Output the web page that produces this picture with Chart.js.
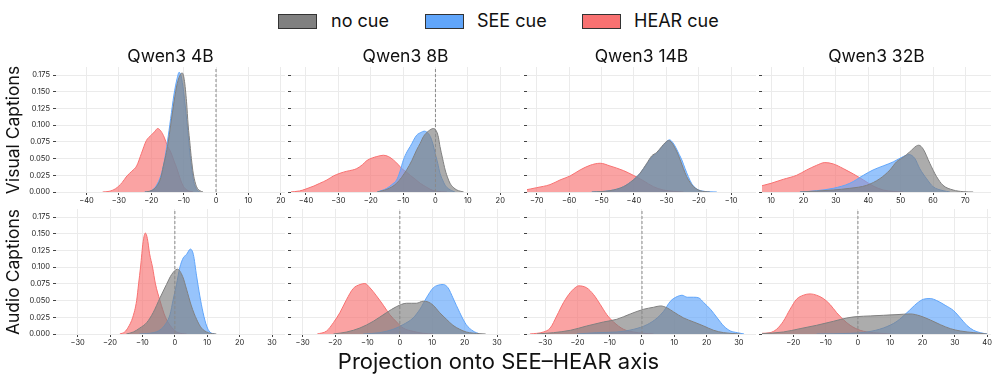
<!DOCTYPE html>
<html>
<head>
<meta charset="utf-8">
<script src="https://cdn.jsdelivr.net/npm/chart.js@4.4.1/dist/chart.umd.min.js"></script>
<style>
  body { margin: 0; background: #fff; font-family: Inter, "Liberation Sans", sans-serif; }
  #fig { position: relative; width: 997px; height: 379px; overflow: hidden; }
  .panel { position: absolute; }
  .title { position: absolute; width: 229px; text-align: center; font-size: 17.5px; line-height: 20px; color: #111; }
  .rowlabel { position: absolute; font-size: 17.5px; line-height: 20px; color: #111; white-space: nowrap;
              transform: translate(-50%, -50%) rotate(-90deg); }
  .xlabel { position: absolute; left: 0; width: 997px; text-align: center; font-size: 22px; line-height: 24px; color: #111; }
  .legbox { position: absolute; width: 37px; height: 13px; border: 1px solid #333; }
  .legtext { position: absolute; font-size: 18px; line-height: 20px; color: #111; white-space: nowrap; }
</style>
</head>
<body>
<div id="fig"></div>
<script>
const models = ['Qwen3 4B', 'Qwen3 8B', 'Qwen3 14B', 'Qwen3 32B'];
const rowLabels = ['Visual Captions', 'Audio Captions'];
const cueNames = ['no cue', 'SEE cue', 'HEAR cue'];
const cueColors = ['128,128,128', '96,165,250', '248,113,113'];
const yTicks = [0, 0.025, 0.05, 0.075, 0.1, 0.125, 0.15, 0.175];
const yMax = 0.187;

// x limits and ticks per panel
const visualXRange = [[-49.4, 21.3], [-44.6, 26.1], [-73.0, -2.3], [7.2, 77.9]];
const audioXRange = [[-36.7, 34.0], [-33.6, 37.1], [-35.6, 35.3], [-29.7, 41.2]];
const visualXTicks = [
  [-40, -30, -20, -10, 0, 10, 20],
  [-40, -30, -20, -10, 0, 10, 20],
  [-70, -60, -50, -40, -30, -20, -10],
  [10, 20, 30, 40, 50, 60, 70]
];
const audioXTicks = [
  [-30, -20, -10, 0, 10, 20, 30],
  [-30, -20, -10, 0, 10, 20, 30],
  [-30, -20, -10, 0, 10, 20, 30],
  [-20, -10, 0, 10, 20, 30, 40]
];

// density curves, [projection, density]
const visual4B_noCue = [[-22,0],[-20,0.002],[-18.4,0.008],[-17,0.022],[-16.3,0.038],[-15.5,0.055],[-14.8,0.073],[-14,0.1],[-13.2,0.127],[-12.2,0.157],[-11.2,0.174],[-10.4,0.178],[-9.8,0.168],[-9.1,0.135],[-8.6,0.1],[-8,0.07],[-7.6,0.05],[-7,0.027],[-6,0.008],[-5,0.002],[-4,0]];
const visual4B_see = [[-22,0],[-20,0.002],[-18.5,0.009],[-17,0.025],[-16,0.045],[-15,0.075],[-14,0.11],[-13,0.145],[-12,0.17],[-11.4,0.179],[-10.8,0.174],[-10,0.15],[-9,0.105],[-8,0.055],[-7,0.018],[-6,0.004],[-5,0]];
const visual4B_hear = [[-35,0],[-33,0.001],[-31,0.005],[-29,0.014],[-27.5,0.024],[-26,0.031],[-24.5,0.039],[-23,0.058],[-21.5,0.077],[-20,0.085],[-19,0.09],[-18,0.095],[-17,0.091],[-16,0.082],[-15,0.069],[-14,0.06],[-13,0.047],[-12,0.034],[-11,0.019],[-10,0.008],[-9,0.003],[-8,0.001],[-7,0]];

const visual8B_noCue = [[-18,0],[-15,0.004],[-12,0.013],[-8.9,0.033],[-7.3,0.047],[-5.8,0.063],[-4.7,0.073],[-3.7,0.083],[-2.2,0.091],[-0.6,0.095],[0.4,0.09],[0.9,0.082],[1.4,0.068],[2.2,0.05],[3,0.033],[3.8,0.021],[4.5,0.013],[5.5,0.007],[6.6,0.003],[8.7,0]];
const visual8B_see = [[-18,0],[-15,0.0055],[-13.5,0.011],[-12,0.018],[-11,0.03],[-9.9,0.048],[-8.8,0.06],[-7.8,0.068],[-5.8,0.085],[-4.5,0.089],[-3.5,0.091],[-2.5,0.089],[-1.6,0.083],[-0.8,0.072],[-0.1,0.058],[0.7,0.043],[1.4,0.028],[2.2,0.018],[3,0.01],[4,0.005],[5,0.002],[6,0]];
const visual8B_hear = [[-45,0],[-42,0.0015],[-40,0.0045],[-37.5,0.009],[-35.7,0.013],[-33.5,0.018],[-31.5,0.024],[-29.5,0.028],[-27.4,0.031],[-25.5,0.033],[-24.3,0.035],[-22.5,0.041],[-21.2,0.047],[-19.5,0.051],[-18.1,0.053],[-16.1,0.055],[-14.5,0.053],[-13,0.048],[-11.5,0.041],[-10.4,0.035],[-9,0.03],[-7.8,0.025],[-6.2,0.019],[-4.7,0.013],[-3,0.008],[-1.6,0.004],[0.4,0.001],[3.5,0]];

const visual14B_noCue = [[-53,0],[-47.4,0.002],[-43.2,0.008],[-40.2,0.018],[-38.1,0.028],[-36,0.043],[-34.5,0.054],[-33,0.059],[-31.4,0.068],[-30.3,0.074],[-29.3,0.077],[-28.5,0.075],[-27.8,0.07],[-26.7,0.06],[-25.7,0.048],[-24.7,0.035],[-23.7,0.023],[-22.6,0.014],[-21.6,0.008],[-19.6,0.002],[-16.5,0]];
const visual14B_see = [[-53,0],[-47.4,0.002],[-43.2,0.008],[-40.2,0.018],[-38.1,0.028],[-36,0.042],[-34.5,0.052],[-33,0.058],[-31.4,0.067],[-30,0.075],[-29,0.078],[-28,0.074],[-27,0.066],[-26,0.056],[-25.2,0.048],[-24.2,0.035],[-23.2,0.023],[-22.2,0.013],[-21,0.006],[-19,0.0015],[-14.4,0]];
const visual14B_hear = [[-77,0.001],[-73.6,0.003],[-70,0.0065],[-65.9,0.011],[-62.8,0.018],[-59.7,0.024],[-56.6,0.033],[-53.5,0.04],[-50.4,0.043],[-47.4,0.039],[-43.2,0.032],[-40.2,0.025],[-37.1,0.017],[-34,0.008],[-30.9,0.003],[-27.8,0.001],[-24.7,0]];

const visual32B_noCue = [[18.9,0],[29.2,0.003],[34.3,0.0055],[39.5,0.01],[43.6,0.02],[46.7,0.033],[48.7,0.045],[50.8,0.052],[52.8,0.06],[54.9,0.069],[55.6,0.07],[57,0.064],[59,0.043],[61.1,0.023],[63.1,0.01],[66.2,0.003],[69.3,0.0005],[72.4,0]];
const visual32B_see = [[18.9,0],[24.1,0.002],[29.2,0.0055],[34.3,0.013],[38.5,0.025],[41.5,0.033],[44.6,0.039],[47.7,0.045],[50.8,0.053],[52.6,0.056],[54.4,0.05],[55.9,0.035],[58,0.02],[60,0.008],[63.1,0.002],[65.2,0]];
const visual32B_hear = [[4,0.006],[6.9,0.009],[10,0.013],[13.8,0.019],[17.9,0.025],[21,0.033],[24.1,0.04],[26.6,0.044],[29.2,0.042],[32.3,0.035],[35.4,0.027],[38.5,0.018],[41.5,0.009],[44.6,0.003],[47.7,0.001],[50.8,0]];

const audio4B_noCue = [[-15,0],[-12.8,0.003],[-10.8,0.009],[-8.7,0.017],[-6.7,0.032],[-4.6,0.054],[-2.6,0.074],[-1,0.089],[0.8,0.097],[2.4,0.086],[3.6,0.067],[5.1,0.042],[6.7,0.022],[8.2,0.009],[10.3,0.002],[12.8,0]];
const audio4B_see = [[-11,0],[-6.7,0.002],[-4.6,0.006],[-2.6,0.017],[-1.5,0.029],[-0.5,0.052],[0.5,0.074],[1.5,0.099],[2.6,0.114],[3.6,0.119],[4.8,0.127],[5.7,0.119],[6.7,0.087],[7.7,0.057],[8.7,0.032],[9.8,0.012],[10.8,0.003],[12.3,0]];
const audio4B_hear = [[-17,0],[-15.5,0.003],[-14.4,0.01],[-13,0.025],[-11.8,0.05],[-11.2,0.075],[-10.6,0.1],[-9.8,0.138],[-9.1,0.151],[-8.5,0.143],[-7.8,0.12],[-6.9,0.1],[-6,0.075],[-4.6,0.05],[-2.9,0.025],[-1,0.01],[1,0.002],[3.6,0]];

const audio8B_noCue = [[-20.5,0],[-16.4,0.003],[-12.3,0.009],[-8.2,0.019],[-4.1,0.032],[-1,0.041],[2.1,0.046],[3.6,0.046],[5.1,0.046],[7.2,0.049],[8.7,0.048],[10.3,0.043],[12.3,0.032],[14.4,0.022],[16.4,0.013],[18.5,0.007],[20.5,0.003],[24.7,0.0005],[26.5,0]];
const audio8B_see = [[-11.3,0],[-6.2,0.002],[-2.1,0.007],[1,0.014],[4.1,0.024],[6.2,0.037],[8.2,0.054],[10.3,0.069],[11.8,0.073],[13.4,0.074],[14.9,0.069],[16.4,0.054],[18.5,0.032],[20.5,0.014],[22.6,0.0045],[24.7,0]];
const audio8B_hear = [[-25.5,0],[-22.6,0.0045],[-20.5,0.017],[-18.5,0.032],[-16.4,0.052],[-14.4,0.068],[-12.3,0.074],[-10.8,0.0755],[-9.2,0.069],[-7.2,0.057],[-5.1,0.043],[-3.1,0.029],[-1,0.018],[1,0.009],[4.1,0.004],[7.2,0.001],[10.3,0]];

const audio14B_noCue = [[-32.6,0],[-27.4,0.002],[-22.2,0.0055],[-17.1,0.012],[-11.9,0.018],[-7.8,0.022],[-3.6,0.03],[0.5,0.037],[3.6,0.04],[5.7,0.042],[7.8,0.039],[9.8,0.033],[12.9,0.024],[16,0.018],[19.1,0.012],[22.2,0.0055],[25.3,0.002],[30.5,0]];
const audio14B_see = [[-20.2,0],[-14,0.002],[-7.8,0.003],[-2.6,0.007],[1.6,0.014],[4.7,0.024],[6.7,0.034],[8.8,0.049],[10.9,0.056],[12.4,0.058],[14,0.055],[16,0.055],[17.6,0.054],[19.1,0.047],[21.2,0.037],[23.3,0.024],[25.3,0.012],[27.4,0.0045],[29.5,0.002],[31.6,0]];
const audio14B_hear = [[-34.7,0],[-30.5,0.003],[-28.4,0.009],[-26.4,0.027],[-24.3,0.047],[-22.2,0.062],[-20.2,0.071],[-19.7,0.072],[-17.1,0.069],[-15,0.059],[-12.9,0.044],[-10.9,0.029],[-8.8,0.018],[-5.7,0.007],[-2.6,0.003],[0.5,0.001],[3.6,0]];

const audio32B_noCue = [[-32,0],[-29.8,0.0005],[-23.1,0.003],[-17.9,0.008],[-12.8,0.013],[-7.6,0.019],[-3.4,0.024],[-0.3,0.026],[3.8,0.027],[7.9,0.028],[12.1,0.029],[16.2,0.03],[19.3,0.027],[22.4,0.021],[25.5,0.014],[28.6,0.008],[31.7,0.0045],[35.9,0.002],[40,0]];
const audio32B_see = [[-12.8,0],[-2.4,0.001],[2.8,0.003],[7.9,0.009],[12.1,0.019],[15.2,0.032],[18.3,0.046],[20.3,0.052],[22.4,0.053],[24.4,0.05],[27,0.043],[29.6,0.035],[31.7,0.024],[33.7,0.013],[35.8,0.0055],[37.9,0.002],[40,0]];
const audio32B_hear = [[-32,0.0005],[-29.8,0.001],[-27.2,0.002],[-25.2,0.007],[-23.1,0.019],[-21,0.037],[-19,0.052],[-16.9,0.058],[-14.8,0.06],[-12.8,0.058],[-10.7,0.053],[-8.6,0.044],[-6.6,0.032],[-4.4,0.021],[-2.4,0.013],[0.7,0.0055],[4.8,0.002],[10,0]];

const visualCurves = [
  [visual4B_noCue, visual4B_see, visual4B_hear],
  [visual8B_noCue, visual8B_see, visual8B_hear],
  [visual14B_noCue, visual14B_see, visual14B_hear],
  [visual32B_noCue, visual32B_see, visual32B_hear]
];
const audioCurves = [
  [audio4B_noCue, audio4B_see, audio4B_hear],
  [audio8B_noCue, audio8B_see, audio8B_hear],
  [audio14B_noCue, audio14B_see, audio14B_hear],
  [audio32B_noCue, audio32B_see, audio32B_hear]
];

// layout of plot areas
const colLeft = [56, 291, 527, 762];
const rowTop = [67, 209];
const plotW = 229, plotH = 125;
const axisW = 56, axisH = 22, padTop = 10, padRight = 8;

Chart.defaults.font.family = 'Inter, "Liberation Sans", sans-serif';

const fig = document.getElementById('fig');

function fmtTick(v) {
  return v < 0 ? '\u2212' + Math.abs(v) : String(v);
}

function makePanel(row, col) {
  const curves = row === 0 ? visualCurves[col] : audioCurves[col];
  const range = row === 0 ? visualXRange[col] : audioXRange[col];
  const xTicks = row === 0 ? visualXTicks[col] : audioXTicks[col];

  const div = document.createElement('div');
  div.className = 'panel';
  div.style.left = (colLeft[col] - axisW) + 'px';
  div.style.top = (rowTop[row] - padTop) + 'px';
  const canvas = document.createElement('canvas');
  canvas.width = axisW + plotW + padRight;
  canvas.height = padTop + plotH + axisH;
  div.appendChild(canvas);
  fig.appendChild(div);

  const datasets = curves.map((pts, k) => ({
    label: cueNames[k],
    data: pts.map(p => ({ x: p[0], y: p[1] })),
    borderColor: 'rgba(' + cueColors[k] + ',1)',
    backgroundColor: 'rgba(' + cueColors[k] + ',0.65)',
    borderWidth: 1,
    fill: 'origin',
    pointRadius: 0,
    cubicInterpolationMode: 'monotone',
    order: k + 1
  }));
  // dashed reference line at 0
  datasets.push({
    label: 'zero',
    data: [{ x: 0, y: 0 }, { x: 0, y: yMax }],
    borderColor: '#8a8a8a',
    borderWidth: 1,
    borderDash: [3, 2],
    pointRadius: 0,
    fill: false,
    order: 0
  });

  new Chart(canvas, {
    type: 'line',
    data: { datasets: datasets },
    options: {
      responsive: false,
      animation: false,
      layout: { padding: { left: 0, top: padTop, right: padRight, bottom: 0 } },
      plugins: { legend: { display: false }, tooltip: { enabled: false } },
      scales: {
        x: {
          type: 'linear',
          min: range[0],
          max: range[1],
          afterBuildTicks: s => { s.ticks = xTicks.map(v => ({ value: v })); },
          afterFit: s => { s.height = axisH; s.paddingLeft = 0; s.paddingRight = 0; },
          ticks: { font: { size: 7.5 }, color: '#222', padding: 1, maxRotation: 0, autoSkip: false, callback: v => fmtTick(v) },
          grid: { color: '#ebebeb', lineWidth: 1, tickLength: 3, tickColor: '#444' },
          border: { display: false }
        },
        y: {
          min: 0,
          max: yMax,
          afterBuildTicks: s => { s.ticks = yTicks.map(v => ({ value: v })); },
          afterFit: s => { s.width = axisW; s.paddingTop = 0; s.paddingBottom = 0; },
          ticks: { font: { size: 7.5 }, color: '#222', padding: 3, callback: v => col === 0 ? v.toFixed(3) : '' },
          grid: { color: '#ebebeb', lineWidth: 1, tickLength: 3, tickColor: '#444' },
          border: { display: false }
        }
      }
    }
  });
}

for (let r = 0; r < 2; r++) {
  for (let c = 0; c < 4; c++) makePanel(r, c);
}

// titles
models.forEach((m, c) => {
  const t = document.createElement('div');
  t.className = 'title';
  t.textContent = m;
  t.style.left = colLeft[c] + 'px';
  t.style.top = '46px';
  fig.appendChild(t);
});

// row labels
rowLabels.forEach((lab, r) => {
  const t = document.createElement('div');
  t.className = 'rowlabel';
  t.textContent = lab;
  t.style.left = '13px';
  t.style.top = (rowTop[r] + plotH / 2) + 'px';
  fig.appendChild(t);
});

// x label
const xl = document.createElement('div');
xl.className = 'xlabel';
xl.textContent = 'Projection onto SEE\u2013HEAR axis';
xl.style.top = '349px';
fig.appendChild(xl);

// legend
const legBoxX = [278, 425, 582];
const legTextX = [331, 477, 634];
cueNames.forEach((name, k) => {
  const b = document.createElement('div');
  b.className = 'legbox';
  b.style.left = legBoxX[k] + 'px';
  b.style.top = '13.5px';
  b.style.background = 'rgb(' + cueColors[k] + ')';
  fig.appendChild(b);
  const t = document.createElement('div');
  t.className = 'legtext';
  t.textContent = name;
  t.style.left = legTextX[k] + 'px';
  t.style.top = '11px';
  fig.appendChild(t);
});
</script>
</body>
</html>
